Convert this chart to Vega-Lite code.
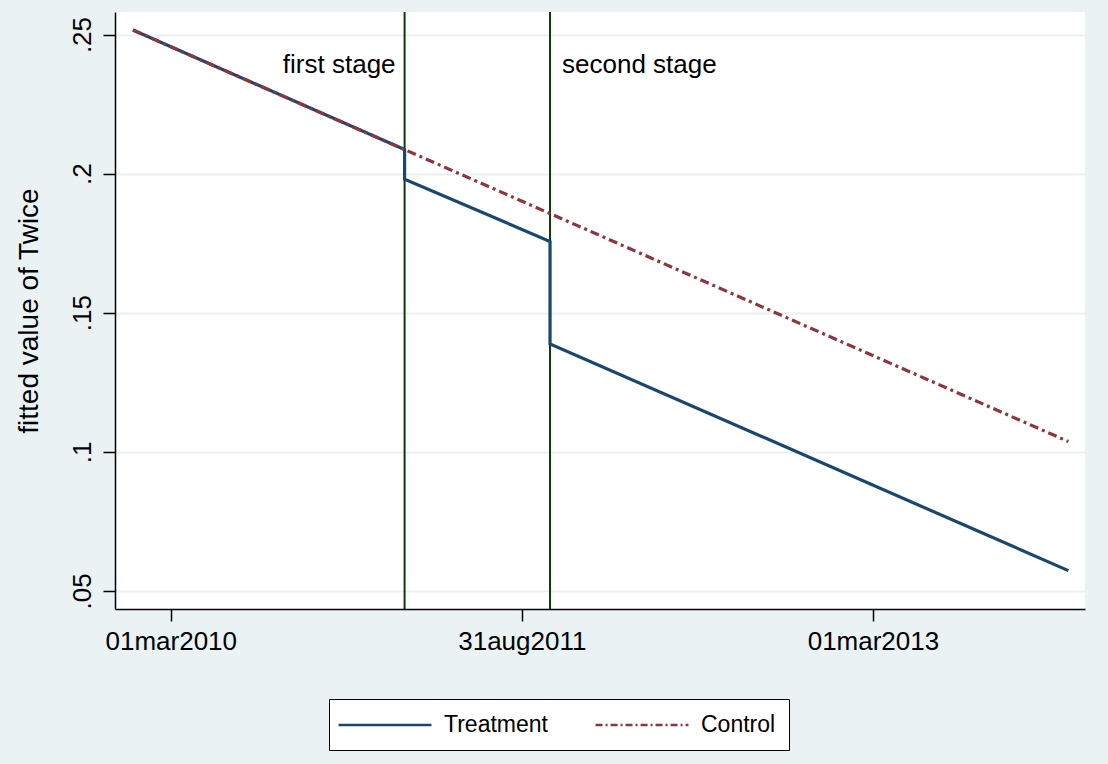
{
  "$schema": "https://vega.github.io/schema/vega-lite/v6.json",
  "width": 970,
  "height": 597,
  "autosize": {"type": "none"},
  "padding": {"left": 115, "top": 12, "right": 23, "bottom": 155},
  "background": "#EAF2F3",
  "config": {
    "view": {"fill": "white", "stroke": null},
    "font": "Liberation Sans"
  },
  "datasets": {
    "fits": [
      {"series": "Treatment", "seq": 1, "date": "2010-01-01", "value": 0.2516},
      {"series": "Treatment", "seq": 2, "date": "2011-03-01", "value": 0.2087},
      {"series": "Treatment", "seq": 3, "date": "2011-03-01", "value": 0.198},
      {"series": "Treatment", "seq": 4, "date": "2011-10-14", "value": 0.1756},
      {"series": "Treatment", "seq": 5, "date": "2011-10-14", "value": 0.1388},
      {"series": "Treatment", "seq": 6, "date": "2013-12-31", "value": 0.0573},
      {"series": "Control", "seq": 1, "date": "2010-01-01", "value": 0.2516},
      {"series": "Control", "seq": 2, "date": "2013-12-31", "value": 0.1037}
    ],
    "stages": [
      {"date": "2011-03-01", "label": "first stage"},
      {"date": "2011-10-14", "label": "second stage"}
    ]
  },
  "layer": [
    {
      "data": {"name": "stages"},
      "mark": {"type": "rule", "color": "#0b3d0b", "strokeWidth": 2},
      "encoding": {
        "x": {
          "field": "date",
          "type": "temporal",
          "scale": {
            "type": "utc",
            "domain": [
              {"year": 2009, "month": 12, "date": 4, "utc": true},
              {"year": 2014, "month": 1, "date": 26, "utc": true}
            ],
            "nice": false
          },
          "axis": {
            "title": null,
            "grid": false,
            "values": [
              {"year": 2010, "month": 3, "date": 1, "utc": true},
              {"year": 2011, "month": 8, "date": 31, "utc": true},
              {"year": 2013, "month": 3, "date": 1, "utc": true}
            ],
            "labelExpr": "lower(utcFormat(datum.value, '%d%b%Y'))",
            "labelFontSize": 26,
            "labelColor": "black",
            "labelPadding": 7,
            "labelFlush": false,
            "labelOverlap": false,
            "tickSize": 12,
            "tickColor": "black",
            "tickWidth": 1.5,
            "domainColor": "black",
            "domainWidth": 1.5
          }
        }
      }
    },
    {
      "data": {"name": "stages"},
      "transform": [{"filter": "datum.label === 'first stage'"}],
      "mark": {"type": "text", "align": "right", "baseline": "middle", "dx": -9, "fontSize": 26, "color": "black"},
      "encoding": {
        "x": {"field": "date", "type": "temporal"},
        "y": {"datum": 0.2392, "type": "quantitative"},
        "text": {"field": "label"}
      }
    },
    {
      "data": {"name": "stages"},
      "transform": [{"filter": "datum.label === 'second stage'"}],
      "mark": {"type": "text", "align": "left", "baseline": "middle", "dx": 12, "fontSize": 26, "color": "black"},
      "encoding": {
        "x": {"field": "date", "type": "temporal"},
        "y": {"datum": 0.2392, "type": "quantitative"},
        "text": {"field": "label"}
      }
    },
    {
      "data": {"name": "fits"},
      "transform": [{"filter": "datum.series === 'Treatment'"}],
      "mark": {"type": "line", "strokeWidth": 3.2},
      "encoding": {
        "x": {"field": "date", "type": "temporal"},
        "y": {
          "field": "value",
          "type": "quantitative",
          "scale": {"domain": [0.0435, 0.2581], "nice": false, "zero": false},
          "axis": {
            "values": [0.05, 0.1, 0.15, 0.2, 0.25],
            "labelExpr": "substring(format(datum.value, '.2~f'), 1)",
            "labelAngle": 270,
            "labelAlign": "center",
            "labelBaseline": "bottom",
            "labelFontSize": 26,
            "labelColor": "black",
            "labelPadding": 8,
            "tickSize": 12,
            "tickColor": "black",
            "tickWidth": 1.5,
            "domainColor": "black",
            "domainWidth": 1.5,
            "grid": true,
            "gridColor": "#EAF2F3",
            "gridWidth": 2,
            "title": "fitted value of Twice",
            "titleFontSize": 28,
            "titleFontWeight": "normal",
            "titleColor": "black",
            "titlePadding": 26
          }
        },
        "order": {"field": "seq", "type": "quantitative"},
        "color": {
          "field": "series",
          "type": "nominal",
          "scale": {"domain": ["Treatment", "Control"], "range": ["#1a476f", "#90353b"]},
          "legend": {
            "title": null,
            "orient": "none",
            "legendX": 214,
            "legendY": 687,
            "direction": "horizontal",
            "padding": 13,
            "columnPadding": 42,
            "strokeColor": "black",
            "fillColor": "white",
            "cornerRadius": 0,
            "symbolType": "M-1.43,0H6.65",
            "symbolSize": 529,
            "symbolStrokeWidth": 2.5,
            "labelFontSize": 23,
            "labelColor": "black",
            "labelOffset": 76,
            "encode": {
              "symbols": {
                "update": {
                  "strokeDash": {"signal": "datum.value === 'Control' ? [7, 3, 2, 3] : [1, 0]"}
                }
              }
            }
          }
        }
      }
    },
    {
      "data": {"name": "fits"},
      "transform": [{"filter": "datum.series === 'Control'"}],
      "mark": {"type": "line", "strokeWidth": 3.2, "strokeDash": [9, 4, 3, 4]},
      "encoding": {
        "x": {"field": "date", "type": "temporal"},
        "y": {"field": "value", "type": "quantitative"},
        "order": {"field": "seq", "type": "quantitative"},
        "color": {"field": "series", "type": "nominal"}
      }
    }
  ]
}
